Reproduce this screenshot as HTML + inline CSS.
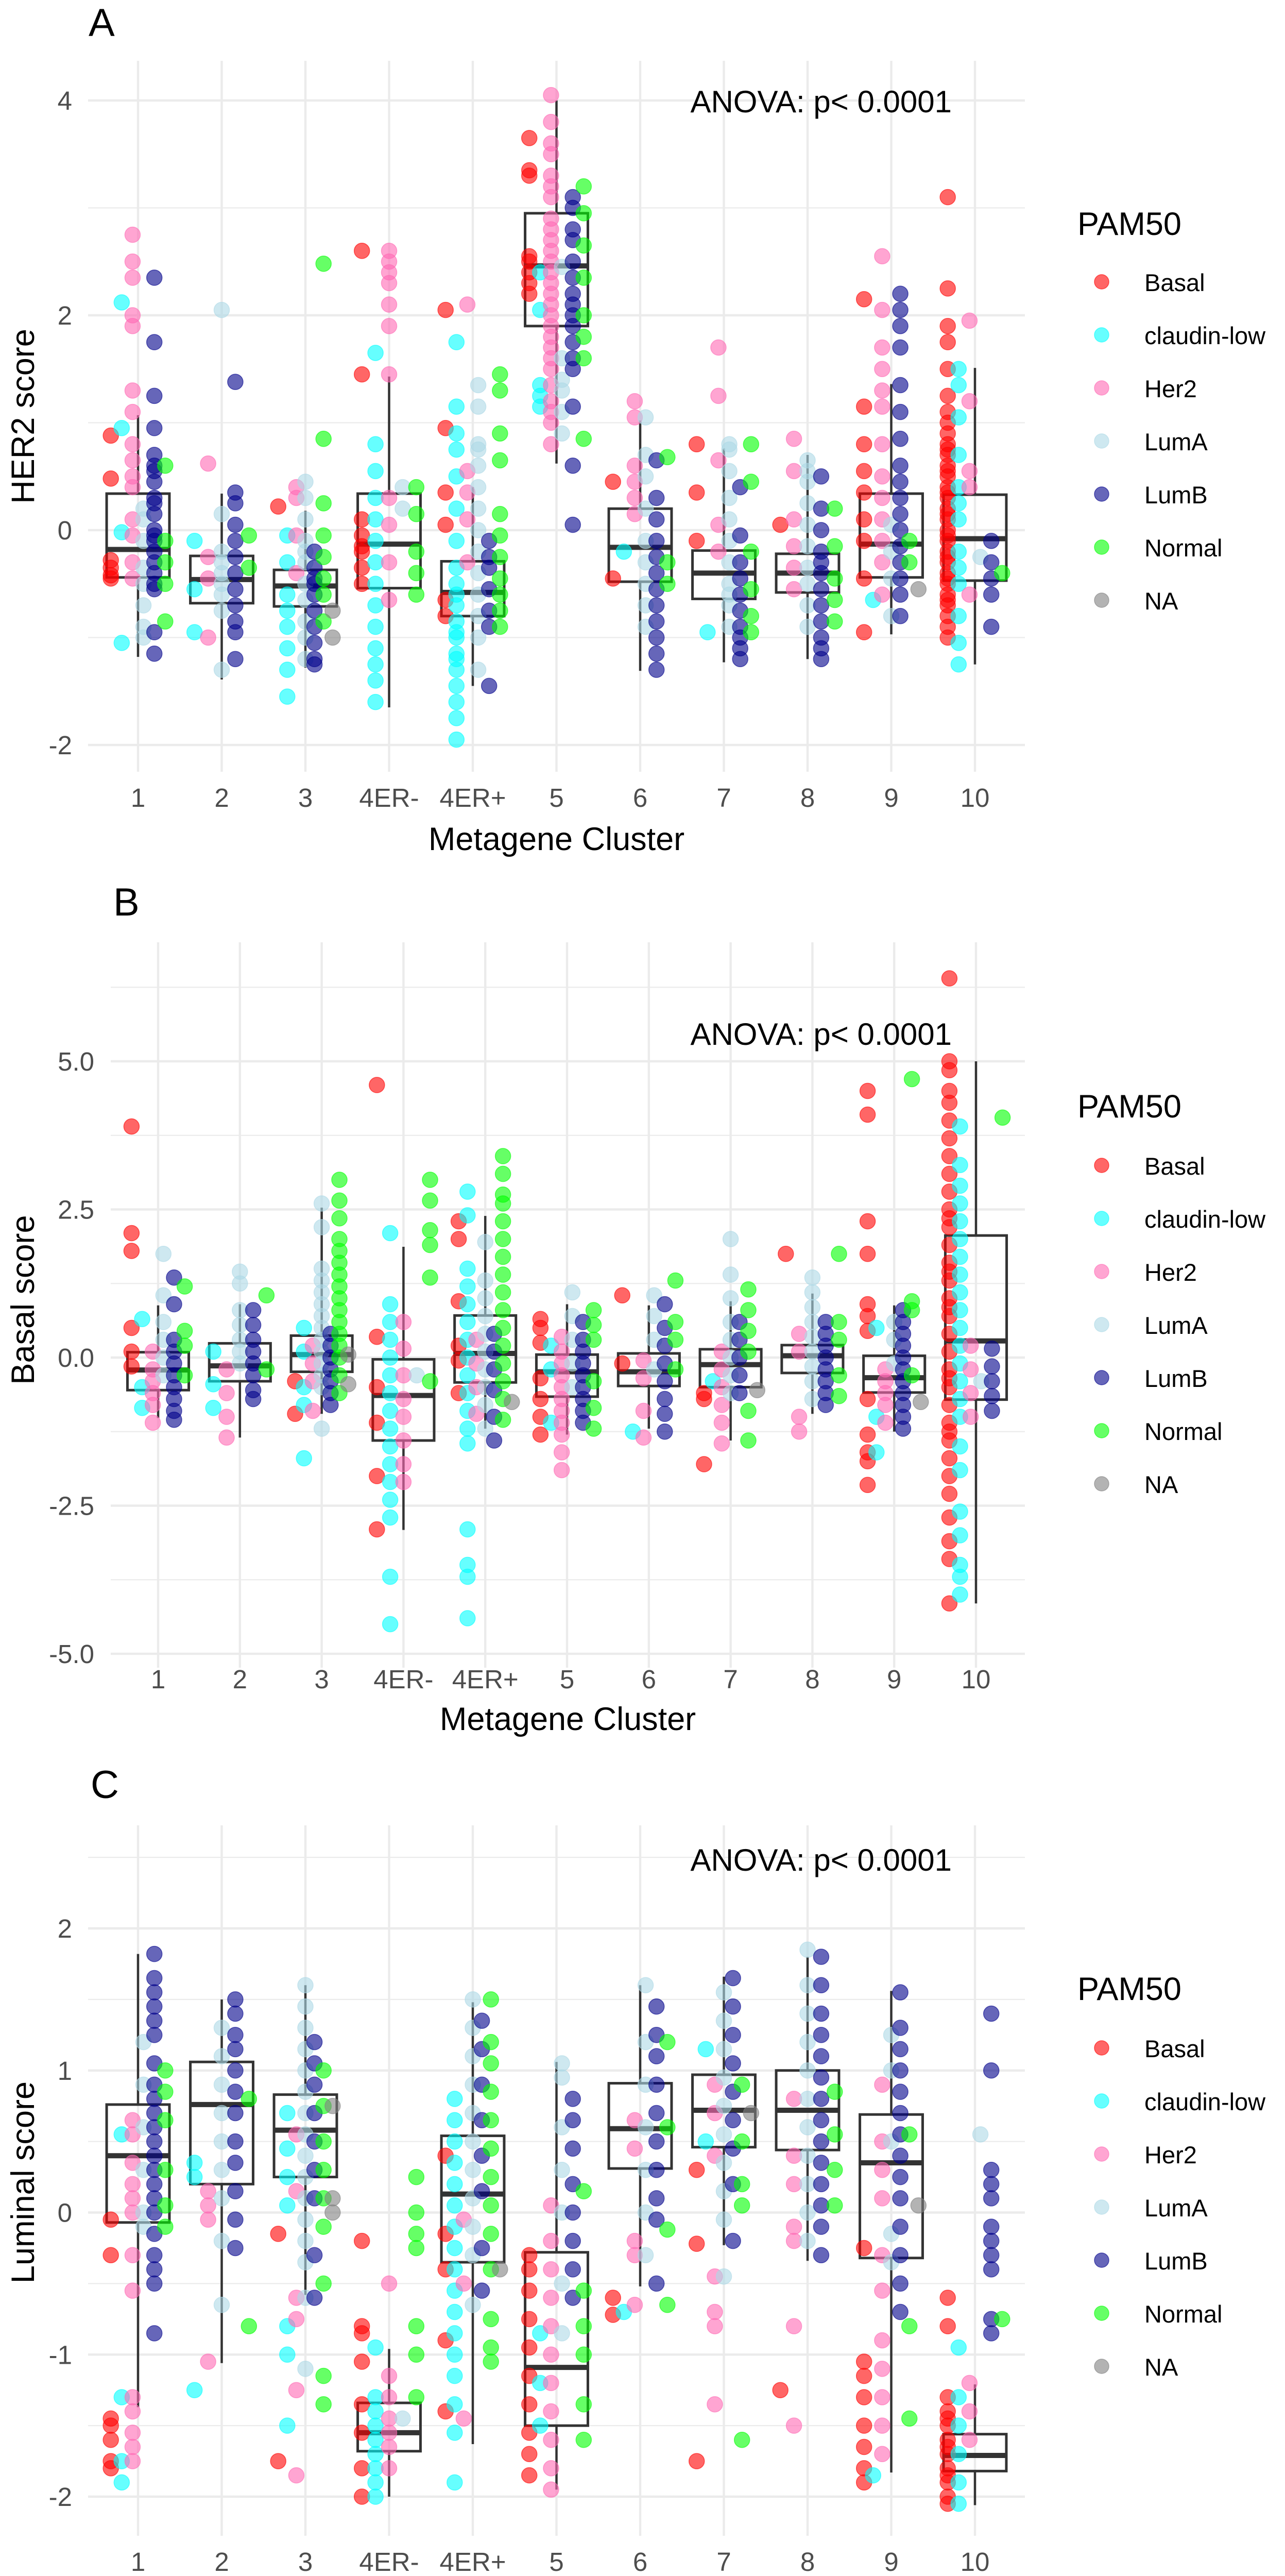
<!DOCTYPE html>
<html><head><meta charset="utf-8"><style>
html,body{margin:0;padding:0;background:#fff;width:2495px;height:5088px;overflow:hidden;}
svg{display:block;font-family:"Liberation Sans",Arial,sans-serif;overflow:hidden;}
</style></head><body>
<svg id="fig" width="2495" height="5088" viewBox="0 0 2495 5088" xmlns="http://www.w3.org/2000/svg"></svg>
<script>
const categories = ["1","2","3","4ER-","4ER+","5","6","7","8","9","10"];
const subtypes = ["Basal","claudin-low","Her2","LumA","LumB","Normal","NA"];
const subtypeColors = ["#ff0000","#00ffff","#ff69b4","#add8e6","#00008b","#00ff00","#808080"];

// ---------- Panel A: HER2 score ----------
const her2Basal = [[0.88,0.48,-0.28,-0.35,-0.42,-0.45],[],[0.22],[2.6,1.45,0.1,-0.05,-0.2,-0.35,-0.5,-0.15],[2.05,0.95,0.35,0.05,-0.65,-0.8],[3.65,3.35,3.3,2.55,2.4,2.3,2.2,2.5],[0.45,-0.45],[0.8,0.35,-0.1],[0.05],[2.15,1.15,0.8,0.55,0.35,0.1,-0.1,-0.45,-0.95],[3.1,2.25,1.9,1.75,1.5,1.25,1.1,1.0,0.9,0.8,0.7,0.6,0.5,0.4,0.3,0.2,0.1,0,-0.1,-0.2,-0.3,-0.4,-0.5,-0.6,-0.7,-0.8,-0.9,-1.0,-0.05,0.15,0.35,0.55,0.75,-0.25,-0.45,-0.65]];
const her2Claudin = [[2.12,0.95,-0.02,-1.05],[-0.1,-0.55,-0.95],[-0.05,-0.6,-0.75,-0.9,-1.1,-1.3,-1.55,-0.3],[1.65,0.8,0.55,0.3,0.1,-0.1,-0.3,-0.5,-0.7,-0.9,-1.1,-1.25,-1.4,-1.6],[1.75,1.15,0.9,0.75,0.5,0.2,-0.1,-0.35,-0.5,-0.7,-0.85,-1.0,-1.15,-1.3,-1.45,-1.6,-1.75,-1.95,-0.6,-0.95,-1.2],[2.4,2.05,1.35,1.25,1.15],[-0.2],[-0.95],[],[-0.65],[1.5,1.35,1.05,0.7,0.4,0.1,-0.2,-0.5,-0.8,-1.05,-1.25,0.25,-0.35]];
const her2Her2 = [[2.75,2.5,2.35,2.0,1.9,1.3,1.1,0.8,0.65,0.5,0.4,0.1,-0.05,-0.3,-0.45],[0.62,-0.25,-0.45,-1.0],[0.4,0.3,-0.05,-0.4],[2.6,2.5,2.4,2.3,2.1,1.9,1.45,0.3,0.05,-0.3,-0.65],[2.1,0.55,0.35,0.1,-0.3],[4.05,3.8,3.6,3.5,3.3,3.1,2.9,2.7,2.6,2.5,2.4,2.3,2.2,2.1,2.0,1.9,1.8,1.7,1.6,1.5,1.35,1.2,1.1,1.0,0.8,3.2,2.8],[1.2,1.05,0.6,0.45,0.3,0.15],[1.7,1.25,0.65,0.05,-0.2],[0.85,0.55,0.1,-0.15,-0.35,-0.55],[2.55,2.05,1.7,1.5,1.3,1.15,0.8,0.5,0.3,0.1,-0.1,-0.3,-0.6],[1.95,1.2,0.55,0.4,-0.6]];
const her2LumA = [[0.2,-0.1,-0.35,-0.7,-0.9,-1.0,0.1,-0.5],[2.05,0.15,-0.3,-0.5,-0.6,-0.75,-1.3,-0.2,-0.4],[0.45,0.1,-0.1,-0.3,-0.5,-0.65,-0.85,-1.0,-1.2,0.3,-0.2],[0.4,0.2],[1.35,1.15,0.8,0.6,0.4,0.2,0,-0.2,-0.4,-0.6,-0.8,-1.0,-1.3,0.75],[2.45,1.6,1.4,1.3,1.1,0.9],[1.05,0.7,0.5,0.2,-0.1,-0.3,-0.5,-0.7,-0.9],[0.8,0.55,0.3,0.1,-0.1,-0.3,-0.5,-0.7,-0.9,0.75,-0.6],[0.65,0.45,0.25,0.05,-0.15,-0.35,-0.5,-0.7,-0.9,0.55],[0.05,-0.2,-0.45,-0.8],[-0.25]];
const her2LumB = [[2.35,1.75,1.25,0.95,0.7,0.55,0.45,0.3,0.15,0,-0.1,-0.2,-0.3,-0.4,-0.5,-0.55,-0.95,-1.15,0.6,0.25,-0.05],[1.38,0.35,0.25,0.05,-0.1,-0.25,-0.4,-0.55,-0.7,-0.85,-0.95,-1.2],[-0.2,-0.35,-0.5,-0.6,-0.75,-0.9,-1.05,-1.2,-1.25,-0.45],[],[-0.1,-0.35,-0.55,-0.75,-0.9,-1.45,-0.25],[3.1,3.0,2.7,2.5,2.35,2.2,2.1,2.0,1.9,1.75,1.6,1.5,1.15,0.6,0.05,2.8],[0.65,0.3,0.1,-0.1,-0.25,-0.4,-0.55,-0.7,-0.85,-1.0,-1.15,-1.3],[0.4,-0.05,-0.3,-0.45,-0.6,-0.75,-0.9,-1.0,-1.1,-1.2],[0.5,0.2,0,-0.2,-0.4,-0.55,-0.7,-0.85,-1.0,-1.1,-1.2,-0.3],[2.2,2.05,1.9,1.7,1.35,1.1,0.85,0.6,0.45,0.3,0.15,0,-0.15,-0.3,-0.45,-0.6,-0.8],[-0.1,-0.3,-0.45,-0.6,-0.9]];
const her2Normal = [[0.6,-0.1,-0.3,-0.5,-0.85],[-0.05,-0.35],[2.48,0.85,0.25,-0.05,-0.25,-0.45,-0.6,-0.85],[0.4,0.15,-0.2,-0.4,-0.6],[1.45,1.3,0.9,0.65,0.15,-0.05,-0.25,-0.45,-0.6,-0.75,-0.9],[3.2,2.95,2.65,2.35,2.0,1.8,1.6,0.85],[0.68,-0.3,-0.5],[0.8,0.45,-0.2,-0.55,-0.8,-0.95],[0.2,-0.15,-0.45,-0.65,-0.85],[-0.1,-0.3],[-0.4]];
const her2NA = [[],[],[-0.75,-1.0],[],[],[],[],[],[],[-0.55],[]];
const her2Q1 = [-0.44,-0.68,-0.71,-0.54,-0.80,1.90,-0.48,-0.64,-0.58,-0.44,-0.47];
const her2Median = [-0.18,-0.46,-0.52,-0.13,-0.58,2.46,-0.16,-0.40,-0.40,-0.13,-0.08];
const her2Q3 = [0.34,-0.24,-0.37,0.34,-0.29,2.95,0.20,-0.19,-0.22,0.34,0.33];
const her2WhiskerLow = [-1.18,-1.39,-1.28,-1.65,-1.45,0.62,-1.31,-1.23,-1.20,-0.97,-1.25];
const her2WhiskerHigh = [1.07,0.34,0.18,1.43,0.40,4.0,1.02,0.76,0.70,1.36,1.51];
const her2Ticks = [-2,0,2,4];
const her2TickLabels = ["-2","0","2","4"];
const her2Minor = [-1,1,3];

// ---------- Panel B: Basal score ----------
const basBasal = [[3.9,2.1,1.8,0.5,0.1,-0.15],[],[-0.4,-0.95],[4.6,0.35,-0.5,-1.1,-2.0,-2.9],[2.3,2.0,0.95,0.2,-0.05,-0.6],[0.65,0.5,0.25,-0.35,-0.7,-1.0,-1.3],[1.05,-0.1],[-0.6,-0.7,-1.8],[1.75],[4.5,4.1,2.3,1.75,0.9,0.7,0.45,-0.7,-1.3,-1.6,-1.75,-2.15],[6.4,5.0,4.85,4.5,4.3,4.0,3.7,3.4,3.1,2.8,2.5,2.2,1.9,1.6,1.3,1.0,0.7,0.4,0.1,-0.2,-0.5,-0.8,-1.1,-1.4,-1.7,-2.0,-2.3,-2.7,-3.1,-3.4,-4.15,2.35,1.45,0.85,-0.35,-1.25]];
const basClaudin = [[0.65,-0.5,-0.85],[0.1,-0.45,-0.85],[0.5,0.1,-0.5,-0.8,-1.7],[2.1,0.9,0.6,0.3,0,-0.3,-0.6,-0.9,-1.2,-1.5,-1.8,-2.1,-2.4,-2.7,-3.7,-4.5],[2.8,2.4,1.5,1.2,0.9,0.6,0.3,0,-0.3,-0.6,-0.9,-1.2,-1.45,-2.9,-3.5,-3.7,-4.4],[0.2,-0.2,-1.1],[-1.25],[-0.4],[],[0.5,-1.0,-1.6],[3.9,3.25,2.9,2.6,2.3,2.0,1.7,1.4,1.1,0.8,0.5,0.2,-0.1,-0.4,-0.7,-1.0,-1.5,-1.9,-2.6,-3.0,-3.5,-3.7,-4.0]];
const basHer2 = [[0.1,-0.2,-0.4,-0.6,-0.8,-1.1],[-0.2,-0.6,-1.0,-1.35],[0.2,-0.1,-0.4,-0.9],[0.6,0.15,-0.3,-0.7,-1.0,-1.4,-1.8,-2.1],[0.3,-0.1,-0.5,-0.95],[0.35,0.1,-0.1,-0.3,-0.5,-0.7,-0.9,-1.1,-1.3,-1.6,-1.9],[-0.05,-0.35,-0.9,-1.35],[0.1,-0.2,-0.5,-0.8,-1.1,-1.45],[0.4,0.1,-1.0,-1.25],[-0.2,-0.4,-0.6,-0.8,-1.1],[0.2,-0.2,-0.6,-1.0]];
const basLumA = [[1.75,1.05,0.6,0.3,0,-0.3],[1.45,1.25,0.8,0.55,0.3,0.1,-0.1],[2.6,2.2,1.5,1.3,1.1,0.9,0.7,0.5,0.3,0.1,-0.1,-0.3,-0.5,-1.2],[-0.3],[1.95,1.3,1.0,0.7,0.4,0.1,-0.2,-0.5,-0.8,-1.2],[1.1,0.7,0.3,-0.1,-0.5],[1.05,0.7,0.3,-0.2],[2.0,1.4,1.0,0.6,0.3,0,-0.3,-0.6],[1.35,1.1,0.85,0.6,0.35,0.1,-0.15,-0.4,-0.7],[0.6,0.3,-0.1],[-0.4]];
const basLumB = [[1.35,0.9,0.3,0.1,-0.1,-0.3,-0.5,-0.7,-0.9,-1.05],[0.8,0.55,0.3,0.1,-0.1,-0.3,-0.55,-0.7],[0.4,0.2,0,-0.2,-0.4,-0.6,-0.8],[],[0.4,0.1,-0.2,-0.55,-1.0,-1.4],[0.6,0.3,0.1,-0.1,-0.3,-0.5,-0.7,-0.9,-1.1],[0.9,0.5,0.2,-0.1,-0.4,-0.7,-0.95,-1.25],[0.6,0.3,0,-0.3,-0.6],[0.6,0.4,0.2,0,-0.2,-0.4,-0.6,-0.8],[0.8,0.6,0.4,0.2,0,-0.2,-0.4,-0.6,-0.8,-1.0,-1.2],[0.15,-0.15,-0.4,-0.65,-0.9]];
const basNormal = [[1.2,0.45,0.2,-0.3],[1.05,-0.2],[3.0,2.65,2.35,2.0,1.8,1.6,1.4,1.2,1.0,0.8,0.6,0.4,0.2,0,-0.3,-0.6],[3.0,2.65,2.15,1.9,1.35,-0.4],[3.4,3.1,2.75,2.6,2.3,2.0,1.7,1.4,1.1,0.8,0.5,0.2,-0.1,-0.4,-0.7,-1.05],[0.8,0.55,0.3,-0.4,-0.85,-1.2],[1.3,0.6,0.3,-0.2],[1.15,0.8,0.45,0.1,-0.9,-1.4],[1.75,0.6,0.3,-0.3,-0.65],[4.7,0.95,0.8,-0.3],[4.05]];
const basNA = [[],[],[0.05,-0.45],[],[-0.75],[],[],[-0.55],[],[-0.75],[]];
const basQ1 = [-0.55,-0.40,-0.24,-1.40,-0.42,-0.66,-0.48,-0.50,-0.26,-0.59,-0.71];
const basMedian = [-0.21,-0.14,0.05,-0.64,0.07,-0.24,-0.24,-0.12,0.03,-0.34,0.28];
const basQ3 = [0.09,0.24,0.37,-0.03,0.71,0.05,0.07,0.14,0.21,0.03,2.06];
const basWhiskerLow = [-1.02,-1.35,-0.95,-2.91,-1.2,-1.3,-1.2,-1.4,-0.95,-1.25,-4.15];
const basWhiskerHigh = [0.88,0.9,2.53,1.87,2.39,0.9,0.88,0.95,1.08,0.88,5.0];
const basTicks = [-5,-2.5,0,2.5,5];
const basTickLabels = ["-5.0","-2.5","0.0","2.5","5.0"];
const basMinor = [-3.75,-1.25,1.25,3.75,6.25];

// ---------- Panel C: Luminal score ----------
const lumBasal = [[-0.05,-0.3,-1.45,-1.5,-1.6,-1.75,-1.8],[],[-0.15,-1.75],[-0.2,-0.8,-0.85,-1.05,-1.35,-1.55,-1.8,-2.0],[0.4,-0.15,-0.4,-0.9,-1.4],[-0.3,-0.4,-0.55,-0.75,-0.95,-1.15,-1.35,-1.55,-1.7,-1.85],[-0.6,-0.72],[0.3,-0.22,-1.75],[-1.25],[-0.25,-1.05,-1.15,-1.3,-1.5,-1.65,-1.8,-1.9],[-0.6,-0.8,-1.3,-1.4,-1.5,-1.6,-1.7,-1.8,-1.9,-2.0,-2.05,-1.45,-1.65,-1.85]];
const lumClaudin = [[0.55,-1.3,-1.75,-1.9],[0.35,0.25,-1.25],[0.7,0.45,0.25,0.05,-0.8,-1.0,-1.5],[-0.95,-1.3,-1.4,-1.5,-1.6,-1.7,-1.8,-1.9,-2.0],[0.8,0.65,0.5,0.35,0.2,0.05,-0.1,-0.25,-0.4,-0.55,-0.7,-0.85,-1.0,-1.15,-1.35,-1.55,-1.9],[-0.85,-1.2,-1.5],[-0.7],[1.15,0.5],[],[-1.85],[-0.95,-1.3,-1.5,-1.7,-1.9,-2.05]];
const lumHer2 = [[0.65,0.55,0.35,0.2,0.1,0,-0.3,-0.55,-1.3,-1.4,-1.55,-1.65,-1.75],[0.15,0.05,-0.05,-1.05],[0.55,0.15,-0.6,-0.75,-1.25,-1.85],[-0.5,-1.15,-1.3,-1.45,-1.55,-1.65,-1.8],[-0.05,-0.5,-1.45],[0.05,-0.2,-0.4,-0.6,-0.8,-1.0,-1.2,-1.4,-1.6,-1.8,-1.95],[0.65,0.45,-0.2,-0.3,-0.65],[0.9,0.7,0.4,-0.45,-0.7,-0.8,-1.35],[0.8,0.4,0.2,-0.1,-0.2,-0.8,-1.5],[0.9,0.5,0.3,0.1,-0.3,-0.55,-0.9,-1.1,-1.3,-1.5,-1.7],[-1.2,-1.4,-1.6]];
const lumLumA = [[1.2,0.9,0.6,0.3,0,-0.1],[1.3,1.1,0.9,0.7,0.5,0.3,0.1,-0.2,-0.65],[1.6,1.45,1.3,1.15,1.0,0.85,0.7,0.55,0.4,0.25,0.1,-0.05,-0.2,-0.35,-0.6,-1.1],[-1.45],[1.5,1.3,1.1,0.9,0.7,0.5,0.3,0.1,-0.1,-0.3,-0.65],[1.05,0.95,0.6,0.3,0,-0.5,-0.85],[1.6,1.2,0.9,0.6,0.3,0,-0.3],[1.55,1.35,1.15,0.95,0.75,0.55,0.35,0.15,-0.05,-0.45],[1.85,1.6,1.4,1.2,1.0,0.8,0.6,0.4,0.2,0,-0.2],[1.25,1.0,0.5,-0.15,-0.35],[0.55]];
const lumLumB = [[1.82,1.65,1.55,1.45,1.35,1.25,1.05,0.9,0.8,0.7,0.6,0.5,0.4,0.3,0.2,0.1,0,-0.15,-0.3,-0.5,-0.85,-0.4],[1.5,1.4,1.25,1.15,1.0,0.85,0.7,0.5,0.35,0.15,-0.05,-0.25],[1.2,1.05,0.9,0.7,0.5,0.3,0.1,-0.3,-0.6],[],[1.35,1.15,0.9,0.65,0.4,0.15,-0.25,-0.55],[0.8,0.65,0.45,0.2,0,-0.2,-0.4,-0.6],[1.45,1.25,1.1,0.9,0.7,0.5,0.3,0.1,-0.05,-0.5],[1.65,1.45,1.25,1.05,0.85,0.65,0.45,0.2,-0.2],[1.8,1.6,1.4,1.25,1.1,0.95,0.8,0.65,0.5,0.35,0.2,0.05,-0.1,-0.3],[1.55,1.3,1.15,1.0,0.85,0.7,0.55,0.4,0.25,0.1,-0.1,-0.3,-0.5,-0.7],[1.4,1.0,0.3,0.2,0.1,-0.1,-0.2,-0.3,-0.4,-0.75,-0.85]];
const lumNormal = [[1.0,0.85,0.65,0.3,0.05,-0.1],[0.8,-0.8],[1.0,0.75,0.5,0.3,0.1,-0.1,-0.5,-1.15,-1.35],[0.25,0,-0.15,-0.25,-0.8,-1.0,-1.3],[1.5,1.2,1.05,0.85,0.65,0.45,0.25,0.05,-0.15,-0.4,-0.75,-0.95,-1.05],[0.15,-0.55,-0.8,-1.0,-1.35,-1.6],[1.2,0.6,-0.12,-0.65],[0.9,0.5,0.2,0.05,-1.6],[0.85,0.55,0.3,0.05],[0.55,-0.8,-1.45],[-0.75]];
const lumNA = [[],[],[0.75,0.1,0.0],[],[-0.4],[],[],[0.7],[],[0.05],[]];
const lumQ1 = [-0.07,0.20,0.25,-1.68,-0.35,-1.50,0.31,0.46,0.44,-0.32,-1.82];
const lumMedian = [0.40,0.76,0.58,-1.55,0.13,-1.09,0.59,0.72,0.72,0.35,-1.71];
const lumQ3 = [0.76,1.06,0.83,-1.34,0.54,-0.28,0.91,0.97,1.0,0.69,-1.56];
const lumWhiskerLow = [-1.37,-1.06,-0.58,-2.0,-1.63,-1.95,-0.52,-0.23,-0.34,-1.83,-2.06];
const lumWhiskerHigh = [1.82,1.50,1.60,-0.96,1.48,1.06,1.6,1.66,1.8,1.56,-1.21];
const lumTicks = [-2,-1,0,1,2];
const lumTickLabels = ["-2","-1","0","1","2"];
const lumMinor = [-1.5,-0.5,0.5,1.5,2.5];

const NS = "http://www.w3.org/2000/svg";
const svg = document.getElementById('fig');
function mk(tag, attrs, parent){
  const e = document.createElementNS(NS, tag);
  for (const k in attrs) e.setAttribute(k, attrs[k]);
  (parent||svg).appendChild(e);
  return e;
}

const panels = [
  {key:"a", letter:"A", lx:172, ly:70, left:171, right:1990, top:118, bottom:1498, x1:268, step:162.5, zeroY:1029, ppu:208.5,
   ticks:her2Ticks, labels:her2TickLabels, minor:her2Minor, tickRight:140, tickBase:1566, xTitleBase:1650, yTitle:"HER2 score", yTitleY:808,
   anovaBase:218, legTitle:456, legFirst:547,
   series:[her2Basal,her2Claudin,her2Her2,her2LumA,her2LumB,her2Normal,her2NA],
   q1:her2Q1, med:her2Median, q3:her2Q3, lo:her2WhiskerLow, hi:her2WhiskerHigh},
  {key:"b", letter:"B", lx:220, ly:1777, left:215, right:1990, top:1829, bottom:3237, x1:307, step:158.8, zeroY:2635, ppu:115,
   ticks:basTicks, labels:basTickLabels, minor:basMinor, tickRight:183, tickBase:3277, xTitleBase:3358, yTitle:"Basal score", yTitleY:2523,
   anovaBase:2028, legTitle:2169, legFirst:2262,
   series:[basBasal,basClaudin,basHer2,basLumA,basLumB,basNormal,basNA],
   q1:basQ1, med:basMedian, q3:basQ3, lo:basWhiskerLow, hi:basWhiskerHigh},
  {key:"c", letter:"C", lx:176, ly:3490, left:171, right:1990, top:3543, bottom:4922, x1:268, step:162.5, zeroY:4294.5, ppu:275.75,
   ticks:lumTicks, labels:lumTickLabels, minor:lumMinor, tickRight:140, tickBase:4990, xTitleBase:5060, yTitle:"Luminal score", yTitleY:4236,
   anovaBase:3631, legTitle:3882, legFirst:3975,
   series:[lumBasal,lumClaudin,lumHer2,lumLumA,lumLumB,lumNormal,lumNA],
   q1:lumQ1, med:lumMedian, q3:lumQ3, lo:lumWhiskerLow, hi:lumWhiskerHigh}
];

panels.forEach(p => {
  const yS = v => p.zeroY - v * p.ppu;
  const xS = i => p.x1 + i * p.step;
  const g = mk('g', {});
  
  

  const lt = mk('text', {x:p.lx, y:p.ly, 'font-size':76, fill:'#000'}, g);
  lt.textContent = p.letter;
  
  

  const grid = mk('g', {}, g);
  
  
  p.minor.forEach(v => {
    const y = yS(v);
    if (y < p.top || y > p.bottom) return;
    const l = mk('line', {x1:p.left, x2:p.right, y1:y, y2:y, stroke:'#ebebeb', 'stroke-width':2.2}, grid);
    
    
  });
  p.ticks.forEach(v => {
    const y = yS(v);
    const l = mk('line', {x1:p.left, x2:p.right, y1:y, y2:y, stroke:'#ebebeb', 'stroke-width':4.4}, grid);
    
    
  });
  categories.forEach((c, i) => {
    const x = xS(i);
    const l = mk('line', {x1:x, x2:x, y1:p.top, y2:p.bottom, stroke:'#ebebeb', 'stroke-width':4.4}, grid);
    
    
  });

  p.ticks.forEach((v, i) => {
    const t = mk('text', {x:p.tickRight, y:yS(v) + 18, 'font-size':51, fill:'#4d4d4d', 'text-anchor':'end'}, g);
    t.textContent = p.labels[i];
    
    
  });
  categories.forEach((c, i) => {
    const t = mk('text', {x:xS(i), y:p.tickBase, 'font-size':51, fill:'#4d4d4d', 'text-anchor':'middle'}, g);
    t.textContent = c;
    
    
  });
  const xt = mk('text', {x:(p.left + p.right) / 2, y:p.xTitleBase, 'font-size':63, fill:'#000', 'text-anchor':'middle'}, g);
  xt.textContent = 'Metagene Cluster';
  
  
  const yt = mk('text', {x:0, y:0, 'font-size':63, fill:'#000', 'text-anchor':'middle', transform:`translate(66,${p.yTitleY}) rotate(-90)`}, g);
  yt.textContent = p.yTitle;
  
  

  const boxes = mk('g', {}, g);
  
  
  const bw = 0.75 * p.step;
  categories.forEach((c, i) => {
    const x = xS(i);
    const bg = mk('g', {}, boxes);
    
    
    mk('line', {x1:x, x2:x, y1:yS(p.q3[i]), y2:yS(p.hi[i]), stroke:'#333', 'stroke-width':4.5}, bg);
    mk('line', {x1:x, x2:x, y1:yS(p.q1[i]), y2:yS(p.lo[i]), stroke:'#333', 'stroke-width':4.5}, bg);
    mk('rect', {x:x - bw/2, y:yS(p.q3[i]), width:bw, height:yS(p.q1[i]) - yS(p.q3[i]), fill:'none', stroke:'#333', 'stroke-width':5}, bg);
    mk('line', {x1:x - bw/2, x2:x + bw/2, y1:yS(p.med[i]), y2:yS(p.med[i]), stroke:'#333', 'stroke-width':10}, bg);
  });

  const pts = mk('g', {}, g);
  
  
  categories.forEach((c, i) => {
    const present = [];
    p.series.forEach((s, k) => { if (s[i] && s[i].length) present.push(k); });
    const n = present.length;
    present.forEach((k, j) => {
      const off = n > 1 ? -0.325 + j * 0.65 / (n - 1) : 0;
      const x = xS(i) + off * p.step;
      p.series[k][i].forEach(v => {
        const cEl = mk('circle', {cx:x, cy:yS(v), r:15, fill:subtypeColors[k], stroke:subtypeColors[k], 'stroke-width':1.5, 'fill-opacity':0.6, 'stroke-opacity':0.6}, pts);
        
        
      });
    });
  });

  const an = mk('text', {x:1848, y:p.anovaBase, 'font-size':60, fill:'#000', 'text-anchor':'end'}, g);
  an.textContent = 'ANOVA: p< 0.0001';
  
  

  const lg = mk('g', {}, g);
  
  
  const ltl = mk('text', {x:2092, y:p.legTitle, 'font-size':63, fill:'#000'}, lg);
  ltl.textContent = 'PAM50';
  
  
  subtypes.forEach((s, k) => {
    const cy = p.legFirst + k * 103;
    const eg = mk('g', {}, lg);
    
    
    mk('circle', {cx:2139, cy:cy, r:14, fill:subtypeColors[k], stroke:subtypeColors[k], 'stroke-width':1.5, 'fill-opacity':0.6, 'stroke-opacity':0.6}, eg);
    const tt = mk('text', {x:2222, y:cy + 18, 'font-size':47, fill:'#000'}, eg);
    tt.textContent = s;
  });
});
</script>
</body></html>
